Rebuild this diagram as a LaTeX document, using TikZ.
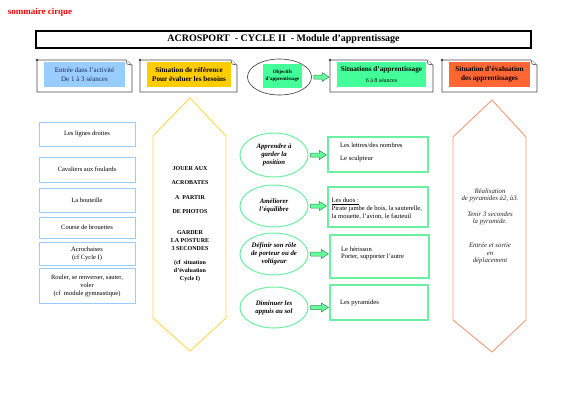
\documentclass[tikz,border=0pt]{standalone}
\usepackage{fontspec}
\setmainfont{Liberation Serif}
\usetikzlibrary{calc,shapes.geometric}
\definecolor{blueF}{HTML}{99CCFF}
\definecolor{orangeF}{HTML}{FFCC00}
\definecolor{greenF}{HTML}{44FF99}
\definecolor{redF}{HTML}{FF6633}
\definecolor{leftline}{HTML}{99CCFF}
\definecolor{yellowline}{HTML}{FFD84A}
\definecolor{greenline}{HTML}{6AF0A0}
\definecolor{salmonline}{HTML}{F29A7A}
\definecolor{arrowF}{HTML}{66FF99}
\definecolor{arrowD}{HTML}{2E8B57}
\definecolor{navytext}{HTML}{1A2A50}
\newcommand\fsz[2]{\fontsize{#1}{#2}\selectfont}
\newcommand\paperbox[5]{%
 \node[minimum width=#4pt, minimum height=#5pt, inner sep=0pt, outer sep=0pt] (#1) at (#2,#3) {};
 \draw[paper] (#1.north west) -- ($(#1.north east)+(-6pt,0pt)$) -- ($(#1.north east)+(0pt,-5pt)$) -- (#1.south east) -- (#1.south west) -- cycle;
 \draw[paper] ($(#1.north east)+(-6pt,0pt)$) -- ($(#1.north east)+(-5pt,-4pt)$) -- ($(#1.north east)+(0pt,-5pt)$);
 \fill[black!75] (#1.north west) circle (1.3);}
\newcommand\barrow[2]{%
 \draw[barrowst] ($(#1.east)+(2pt,2pt)$) -- ($(#1.east -| #2.west)+(-8pt,2pt)$) -- ($(#1.east -| #2.west)+(-8pt,4.5pt)$) -- ($(#1.east -| #2.west)+(-1pt,0pt)$) -- ($(#1.east -| #2.west)+(-8pt,-4.5pt)$) -- ($(#1.east -| #2.west)+(-8pt,-2pt)$) -- ($(#1.east)+(2pt,-2pt)$) -- cycle;}
\tikzset{
 paper/.style={draw=black!70, line width=0.6pt, fill=white},
 fillbox/.style={inner sep=0pt, align=center},
 leftbox/.style={draw=leftline, line width=1pt, minimum width=96pt, inner sep=1pt, align=center, font=\fsz{6.5}{8}},
 gell/.style={ellipse, draw=greenline, line width=1pt, inner sep=0pt, align=center, font=\fsz{6.8}{8.2}\bfseries\itshape},
 gbox/.style={draw=greenline, line width=1.2pt, inner sep=0pt},
 gtext/.style={anchor=west, inner sep=0pt, align=left, font=\fsz{6.6}{7.8}},
 hextext/.style={inner sep=0pt, align=center, font=\fsz{6}{8}\bfseries},
 otext/.style={inner sep=0pt, align=center, text=black!85, font=\fsz{6.8}{7.4}\itshape},
 barrowst/.style={fill=arrowF, draw=arrowD, line width=0.5pt, line join=miter},
}
\begin{document}
\begin{tikzpicture}[x=1pt,y=-1pt]
\useasboundingbox (0,0) rectangle (565,400);
\fill[white] (0,0) rectangle (565,400);

\node[text=red, font=\fsz{9}{10}\bfseries] (somm) at (40,12) {sommaire cirque};

\node[draw=black, line width=1.1pt, minimum width=495pt, minimum height=17pt, inner sep=0pt, font=\fsz{10}{11}\bfseries] (title) at (283.5,39.5) {ACROSPORT\ \ - CYCLE II\ \ - Module d'apprentissage};

% top row
\paperbox{p1}{84.5}{76}{95}{32}
\node[fillbox, fill=blueF, minimum width=81pt, minimum height=25pt, text=navytext, font=\fsz{7}{8.5}] (f1) at (84.5,74.5) {Entrée dans l'activité\\De 1 à 3 séances};
\paperbox{p2}{188.5}{76}{97}{32}
\node[fillbox, fill=orangeF, minimum width=84pt, minimum height=25pt, font=\fsz{7.2}{8.5}\bfseries] (f2) at (189,74.5) {Situation de référence\\Pour évaluer les besoins};
\node[ellipse, draw=black!80, line width=0.6pt, minimum width=64pt, minimum height=36pt, inner sep=0pt] (obj) at (279.5,77) {};
\node[fillbox, fill=greenF, minimum width=39pt, minimum height=24pt, font=\fsz{5}{7}\bfseries] (objf) at (282.5,76) {Objectifs\\d'apprentissage};
\paperbox{p4}{381.5}{76}{103}{32}
\node[fillbox, fill=greenF, minimum width=89pt, minimum height=25pt] (f4) at (381.5,74.5) {{\fsz{7.2}{8.5}\bfseries Situations d'apprentissage}\\[-1.5pt]{\fsz{6}{7}6 à 8 séances}};
\paperbox{p5}{489.5}{76}{95}{32}
\node[fillbox, fill=redF, minimum width=81pt, minimum height=25pt, font=\fsz{7.2}{8.5}\bfseries] (f5) at (489.5,74.5) {Situation d'évaluation\\des apprentissages};
\barrow{obj}{p4}

% left column
\node[leftbox, minimum height=24pt] (l1) at (87,134) {Les lignes droites};
\node[leftbox, minimum height=25pt] (l2) at (87,169.5) {Cavaliers aux foulards};
\node[leftbox, minimum height=24pt] (l3) at (87,200) {La bouteille};
\node[leftbox, minimum height=21pt] (l4) at (87,227.5) {Course de brouettes};
\node[leftbox, minimum height=23pt] (l5) at (87,253.5) {Acrochaises\\(cf Cycle I)};
\node[leftbox, minimum height=35pt] (l6) at (87,285.5) {Rouler, se renverser, sauter,\\voler\\(cf\ \ module gymnastique)};

% yellow hexagon
\draw[yellowline, line width=0.9pt, line join=miter] (190,98) -- (226,136) -- (226,318) -- (190,351) -- (153,318) -- (153,136) -- cycle;
\node[hextext, font=\fsz{6}{14.5}\bfseries] (h1) at (190,190) {JOUER\ AUX\\ACROBATES\\A\ \ PARTIR\\DE PHOTOS};
\node[hextext] (h2) at (190,241) {GARDER\\LA POSTURE\\3 SECONDES};
\node[hextext] (h3) at (190,271) {(cf\ \ situation\\d'évaluation\\Cycle I)};

% green ellipses
\node[gell, minimum width=68pt, minimum height=44pt] (e1) at (274,155) {Apprendre à\\garder la\\position};
\node[gell, minimum width=68pt, minimum height=42pt] (e2) at (274,206) {Améliorer\\l'équilibre};
\node[gell, minimum width=68pt, minimum height=42pt] (e3) at (274,254) {Définir son rôle\\de porteur ou de\\voltigeur};
\node[gell, minimum width=68pt, minimum height=41pt] (e4) at (274,307.5) {Diminuer les\\appuis au sol};

% green boxes
\node[gbox, minimum width=100pt, minimum height=35pt] (b1) at (378,154.5) {};
\node[gbox, minimum width=100pt, minimum height=40pt] (b2) at (378,207) {};
\node[gbox, minimum width=99pt, minimum height=43pt] (b3) at (379.5,256.5) {};
\node[gbox, minimum width=98pt, minimum height=35pt] (b4) at (379,302.5) {};
\node[gtext] (t1a) at (340,145) {Les lettres/des nombres};
\node[gtext] (t1b) at (340,159) {Le sculpteur};
\node[gtext] (t2) at (331.5,209) {\underline{Les duos :}\\Pirate jambe de bois, la sauterelle,\\la mouette, l'avion, le fauteuil};
\node[gtext] (t3) at (341,253.5) {Le hérisson\\Porter, supporter l'autre};
\node[gtext] (t4) at (340,303) {Les pyramides};

\barrow{e1}{b1}
\barrow{e2}{b2}
\barrow{e3}{b3}
\barrow{e4}{b4}

% orange hexagon
\draw[salmonline, line width=0.9pt, line join=miter] (492,100) -- (526,137) -- (526,320) -- (492,352) -- (453,320) -- (453,137) -- cycle;
\node[otext] (o1) at (490,195.5) {Réalisation\\de pyramides à2, à3.};
\node[otext] (o2) at (490,218.5) {Tenir 3 secondes\\la pyramide.};
\node[otext] (o3) at (490,253.5) {Entrée et sortie\\en\\déplacement};
\end{tikzpicture}
\end{document}
